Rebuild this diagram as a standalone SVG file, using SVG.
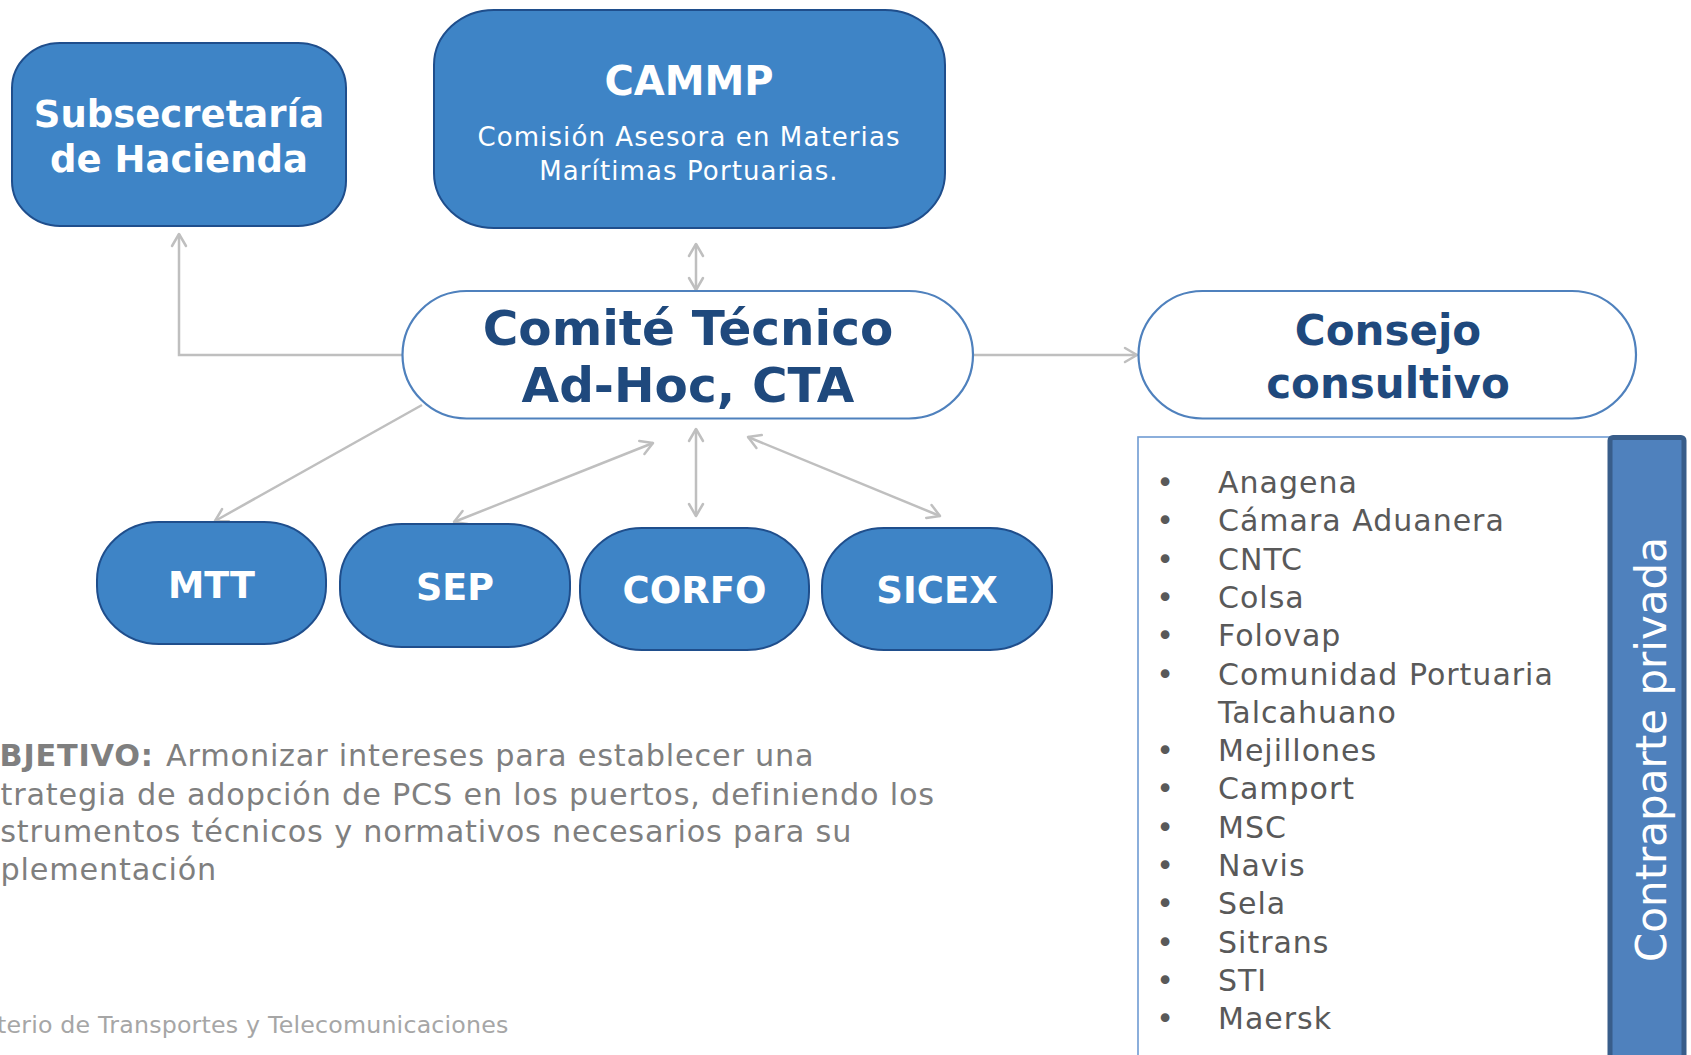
<svg xmlns="http://www.w3.org/2000/svg" width="1691" height="1055" viewBox="0 0 1691 1055">
<style>
text{font-family:"DejaVu Sans",Verdana,sans-serif}
.blue{fill:#3E84C6;stroke:#1F4E8C;stroke-width:2}
.white{fill:#FFFFFF;stroke:#4F81BD;stroke-width:2.2}
.wt{fill:#FFFFFF;font-weight:bold;text-anchor:middle}
.dt{fill:#1F497D;font-weight:bold;text-anchor:middle}
.con{fill:none;stroke:#BFBFBF;stroke-width:2.5}
.li{fill:#595959;font-size:30px;letter-spacing:1px}
.bu{fill:#595959;font-size:30px;text-anchor:middle}
.obj{fill:#7F7F7F;font-size:30.3px;letter-spacing:0.8px}
</style>
<defs>
<marker id="ah" viewBox="-14 -9 16 18" refX="0" refY="0" markerWidth="16" markerHeight="18" markerUnits="userSpaceOnUse" orient="auto-start-reverse">
<path d="M-12,-7 L0,0 L-12,7" fill="none" stroke="#BFBFBF" stroke-width="2.5" stroke-linecap="round" stroke-linejoin="round"/>
</marker>
</defs>
<rect width="1691" height="1055" fill="#FFFFFF"/>

<g id="connectors">
<polyline class="con" points="402,355 179,355 179,234" marker-end="url(#ah)"/>
<line class="con" x1="696" y1="244" x2="696" y2="290" marker-start="url(#ah)" marker-end="url(#ah)"/>
<line class="con" x1="973" y1="355" x2="1137" y2="355" marker-end="url(#ah)"/>
<line class="con" x1="422" y1="405" x2="215" y2="521" marker-end="url(#ah)"/>
<line class="con" x1="653" y1="443" x2="454" y2="522" marker-start="url(#ah)" marker-end="url(#ah)"/>
<line class="con" x1="696" y1="429" x2="696" y2="516" marker-start="url(#ah)" marker-end="url(#ah)"/>
<line class="con" x1="748" y1="437" x2="940" y2="516" marker-start="url(#ah)" marker-end="url(#ah)"/>
</g>

<g id="subsecretaria">
<rect class="blue" x="12" y="43" width="334" height="183" rx="48" ry="45"/>
<text class="wt" x="179" y="127" font-size="37">Subsecretaría</text>
<text class="wt" x="179" y="172" font-size="37">de Hacienda</text>
</g>

<g id="cammp">
<rect class="blue" x="434" y="10" width="511" height="218" rx="60" ry="55"/>
<text class="wt" x="689" y="95" font-size="40">CAMMP</text>
<text x="689" y="146" font-size="26" fill="#FFFFFF" text-anchor="middle" letter-spacing="1.1">Comisión Asesora en Materias</text>
<text x="689" y="180" font-size="26" fill="#FFFFFF" text-anchor="middle" letter-spacing="1.1">Marítimas Portuarias.</text>
</g>

<g id="comite">
<rect class="white" x="402.5" y="291" width="570.5" height="127.5" rx="64" ry="64"/>
<text class="dt" x="688" y="345" font-size="48.5">Comité Técnico</text>
<text class="dt" x="688" y="402" font-size="48.5">Ad-Hoc, CTA</text>
</g>

<g id="consejo">
<rect class="white" x="1138.5" y="291" width="497.5" height="127.5" rx="64" ry="64"/>
<text class="dt" x="1388" y="345" font-size="42">Consejo</text>
<text class="dt" x="1388" y="398" font-size="42">consultivo</text>
</g>

<g id="mtt">
<rect class="blue" x="97" y="522" width="229" height="122" rx="62" ry="58"/>
<text class="wt" x="211.5" y="598" font-size="36.5">MTT</text>
</g>
<g id="sep">
<rect class="blue" x="340" y="524" width="230" height="123" rx="62" ry="58"/>
<text class="wt" x="455" y="600" font-size="36.5">SEP</text>
</g>
<g id="corfo">
<rect class="blue" x="580" y="528" width="229" height="122" rx="62" ry="58"/>
<text class="wt" x="694.5" y="603" font-size="37">CORFO</text>
</g>
<g id="sicex">
<rect class="blue" x="822" y="528" width="230" height="122" rx="62" ry="58"/>
<text class="wt" x="937" y="603" font-size="37">SICEX</text>
</g>

<g id="lista">
<rect x="1138" y="437" width="500" height="640" fill="#FFFFFF" stroke="#6F9BD3" stroke-width="1.6"/>
<g>
<text class="bu" x="1165" y="493">•</text><text class="li" x="1218" y="493">Anagena</text>
<text class="bu" x="1165" y="531.3">•</text><text class="li" x="1218" y="531.3">Cámara Aduanera</text>
<text class="bu" x="1165" y="569.6">•</text><text class="li" x="1218" y="569.6">CNTC</text>
<text class="bu" x="1165" y="607.9">•</text><text class="li" x="1218" y="607.9">Colsa</text>
<text class="bu" x="1165" y="646.2">•</text><text class="li" x="1218" y="646.2">Folovap</text>
<text class="bu" x="1165" y="684.5">•</text><text class="li" x="1218" y="684.5">Comunidad Portuaria</text>
<text class="li" x="1218" y="722.8">Talcahuano</text>
<text class="bu" x="1165" y="761.1">•</text><text class="li" x="1218" y="761.1">Mejillones</text>
<text class="bu" x="1165" y="799.4">•</text><text class="li" x="1218" y="799.4">Camport</text>
<text class="bu" x="1165" y="837.7">•</text><text class="li" x="1218" y="837.7">MSC</text>
<text class="bu" x="1165" y="876">•</text><text class="li" x="1218" y="876">Navis</text>
<text class="bu" x="1165" y="914.3">•</text><text class="li" x="1218" y="914.3">Sela</text>
<text class="bu" x="1165" y="952.6">•</text><text class="li" x="1218" y="952.6">Sitrans</text>
<text class="bu" x="1165" y="990.9">•</text><text class="li" x="1218" y="990.9">STI</text>
<text class="bu" x="1165" y="1029.2">•</text><text class="li" x="1218" y="1029.2">Maersk</text>
</g>
</g>

<g id="contraparte">
<rect x="1610" y="437.5" width="74" height="640" rx="3" fill="#4F81BD" stroke="#385D8A" stroke-width="5"/>
<text x="1666" y="749.5" font-size="42" fill="#FFFFFF" text-anchor="middle" transform="rotate(-90 1666 749.5)">Contraparte privada</text>
</g>

<g id="objetivo">
<text class="obj" x="-27" y="766"><tspan font-weight="bold">OBJETIVO:</tspan><tspan x="166">Armonizar intereses para establecer una</tspan></text>
<text class="obj" x="-36" y="804.5">Estrategia de adopción de PCS en los puertos, definiendo los</text>
<text class="obj" x="-29" y="842">instrumentos técnicos y normativos necesarios para su</text>
<text class="obj" x="-39" y="880">implementación</text>
</g>

<g id="footer">
<text x="-65" y="1033" font-size="23.7" fill="#A6A6A6" letter-spacing="0.2">Ministerio de Transportes y Telecomunicaciones</text>
</g>
</svg>
